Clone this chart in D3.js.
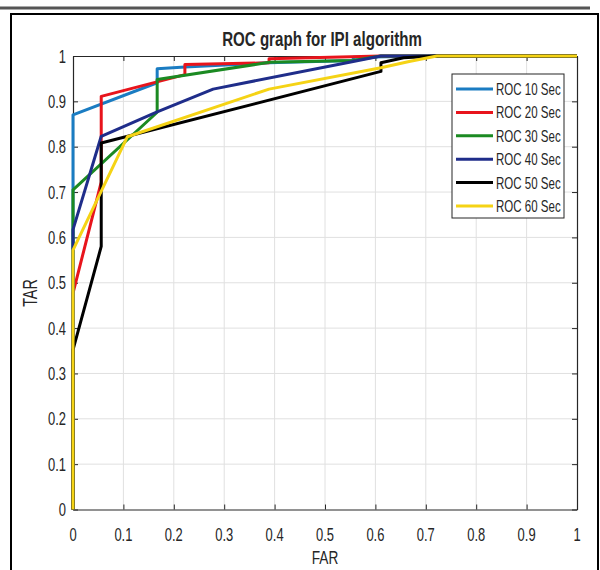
<!DOCTYPE html>
<html lang="en">
<head>
<meta charset="utf-8">
<title>ROC graph for IPI algorithm</title>
<script src="https://cdn.jsdelivr.net/npm/d3@7/dist/d3.min.js"></script>
<style>
  body { margin: 0; background: #fff; }
  text { font-family: "Liberation Sans", Arial, sans-serif; fill: #262626; }
</style>
</head>
<body>
<script>
// series names (legend order = draw order)
var seriesNames = ["ROC 10 Sec", "ROC 20 Sec", "ROC 30 Sec", "ROC 40 Sec", "ROC 50 Sec", "ROC 60 Sec"];

// FAR / TAR points
var far10 = [0, 0, 0.167, 0.167, 0.222, 0.389, 0.556, 0.556, 0.722, 1];
var tar10 = [0, 0.870, 0.941, 0.972, 0.976, 0.985, 0.990, 0.997, 1, 1];
var far20 = [0, 0, 0.056, 0.056, 0.222, 0.222, 0.389, 0.389, 0.611, 1];
var tar20 = [0, 0.477, 0.722, 0.911, 0.959, 0.981, 0.985, 0.994, 1, 1];
var far30 = [0, 0, 0.167, 0.167, 0.389, 0.556, 0.611, 1];
var tar30 = [0, 0.705, 0.876, 0.948, 0.986, 0.990, 1, 1];
var far40 = [0, 0, 0.056, 0.167, 0.278, 0.556, 0.611, 1];
var tar40 = [0, 0.617, 0.823, 0.877, 0.927, 0.988, 1, 1];
var far50 = [0, 0, 0.056, 0.056, 0.611, 0.611, 0.656, 0.722, 1];
var tar50 = [0, 0.352, 0.580, 0.808, 0.966, 0.985, 0.996, 1, 1];
var far60 = [0, 0, 0.108, 0.389, 0.611, 0.667, 0.722, 1];
var tar60 = [0, 0.572, 0.822, 0.927, 0.974, 0.988, 1, 1];

var tickValues = [0, 0.1, 0.2, 0.3, 0.4, 0.5, 0.6, 0.7, 0.8, 0.9, 1];
var tickLabels = ["0", "0.1", "0.2", "0.3", "0.4", "0.5", "0.6", "0.7", "0.8", "0.9", "1"];

var colors = ["#1a7cc2", "#e8141c", "#1b8a22", "#1f2d8a", "#000000", "#f5d315"];

var series = [
  {name: seriesNames[0], far: far10, tar: tar10},
  {name: seriesNames[1], far: far20, tar: tar20},
  {name: seriesNames[2], far: far30, tar: tar30},
  {name: seriesNames[3], far: far40, tar: tar40},
  {name: seriesNames[4], far: far50, tar: tar50},
  {name: seriesNames[5], far: far60, tar: tar60}
];

var width = 600, height = 570;
var sx = 0.72; // text in the picture is squeezed sideways

var svg = d3.select("body").append("svg")
    .attr("width", width)
    .attr("height", height);

// page frame
svg.append("line").attr("x1", 0).attr("x2", 590).attr("y1", 8).attr("y2", 8)
    .attr("stroke", "#555").attr("stroke-width", 3);
svg.append("rect").attr("x", 11).attr("y", 14).attr("width", 587).attr("height", 570)
    .attr("fill", "none").attr("stroke", "#000").attr("stroke-width", 2);

var x = d3.scaleLinear().domain([0, 1]).range([73, 577]);
var y = d3.scaleLinear().domain([0, 1]).range([509.5, 56]);

function label(str, px, py, size, anchor, weight, rotate) {
  var t = "translate(" + px + "," + py + ")" + (rotate ? " rotate(" + rotate + ")" : "") + " scale(" + sx + ",1)";
  return svg.append("text")
      .attr("transform", t)
      .attr("text-anchor", anchor)
      .attr("font-size", size)
      .attr("font-weight", weight || "normal")
      .text(str);
}

// grid
var grid = svg.append("g").attr("stroke", "#e0e0e0").attr("stroke-width", 1);
grid.selectAll(".gx").data(tickValues.slice(1, -1)).enter().append("line")
    .attr("x1", function(d) { return x(d); }).attr("x2", function(d) { return x(d); })
    .attr("y1", y(0)).attr("y2", y(1));
grid.selectAll(".gy").data(tickValues.slice(1, -1)).enter().append("line")
    .attr("y1", function(d) { return y(d); }).attr("y2", function(d) { return y(d); })
    .attr("x1", x(0)).attr("x2", x(1));

// axes (box with inward ticks)
function styleAxis(g) {
  g.selectAll("path").attr("stroke", "#262626").attr("stroke-width", 1.2);
  g.selectAll("line").attr("stroke", "#262626");
  g.selectAll("text").remove();
}
svg.append("g").attr("transform", "translate(0," + y(0) + ")")
    .call(d3.axisBottom(x).tickValues(tickValues).tickSize(-5).tickSizeOuter(0)).call(styleAxis);
svg.append("g").attr("transform", "translate(0," + y(1) + ")")
    .call(d3.axisTop(x).tickValues(tickValues).tickSize(-5).tickSizeOuter(0)).call(styleAxis);
svg.append("g").attr("transform", "translate(" + x(0) + ",0)")
    .call(d3.axisLeft(y).tickValues(tickValues).tickSize(-5).tickSizeOuter(0)).call(styleAxis);
svg.append("g").attr("transform", "translate(" + x(1) + ",0)")
    .call(d3.axisRight(y).tickValues(tickValues).tickSize(-5).tickSizeOuter(0)).call(styleAxis);

// tick labels
tickValues.forEach(function(v, i) {
  label(tickLabels[i], x(v), 541, 18, "middle");
  label(tickLabels[i], 66, y(v) + 6.5, 18, "end");
});

// curves
var line = d3.line()
    .x(function(d) { return x(d[0]); })
    .y(function(d) { return y(d[1]); });

svg.append("g").selectAll("path").data(series).enter().append("path")
    .attr("d", function(s) { return line(d3.zip(s.far, s.tar)); })
    .attr("fill", "none")
    .attr("stroke", function(s, i) { return colors[i]; })
    .attr("stroke-width", 3)
    .attr("stroke-linejoin", "round");

// titles
label("ROC graph for IPI algorithm", 322, 46, 21, "middle", "bold");
label("FAR", 325, 564, 19, "middle");
label("TAR", 37, 293, 20, "middle", "normal", -90);

// legend
var leg = svg.append("g");
leg.append("rect").attr("x", 452).attr("y", 74).attr("width", 112).attr("height", 144)
    .attr("fill", "#fff").attr("stroke", "#262626").attr("stroke-width", 1);
series.forEach(function(s, i) {
  var ry = 89 + i * 23.4;
  leg.append("line").attr("x1", 456).attr("x2", 493).attr("y1", ry).attr("y2", ry)
      .attr("stroke", colors[i]).attr("stroke-width", 3);
  label(s.name, 496, ry + 6, 16, "start");
});
</script>
</body>
</html>
